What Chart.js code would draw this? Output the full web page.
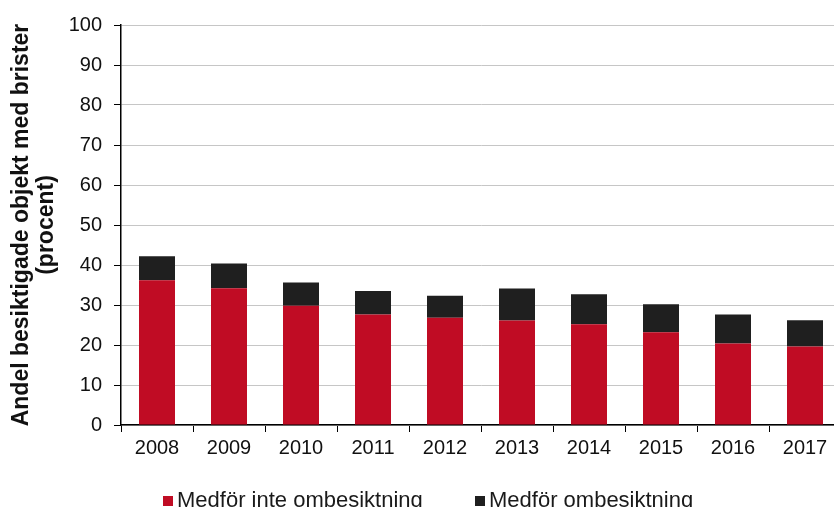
<!DOCTYPE html>
<html>
<head>
<meta charset="utf-8">
<script src="https://cdn.jsdelivr.net/npm/chart.js@4"></script>
<style>
  html, body { margin: 0; padding: 0; background: #fff; }
  #wrap { position: relative; width: 834px; height: 507px; overflow: hidden; }
  #box { position: absolute; left: 0; top: 0; width: 843px; height: 507px; }
  #legend { position: absolute; top: 488px; left: 0; width: 834px; height: 19px;
    font-family: "Liberation Sans", Arial, sans-serif; font-size: 22px; color: #1a1a1a; }
  .item { position: absolute; top: 0; white-space: nowrap; line-height: 24px; }
  .item i { display: inline-block; width: 10px; height: 10px; margin-right: 4px; vertical-align: 1px; }
</style>
</head>
<body>
<div id="wrap">
  <div id="box"><canvas id="chart" width="843" height="507"></canvas></div>
  <div id="legend"></div>
</div>
<script>
const years = ["2008", "2009", "2010", "2011", "2012", "2013", "2014", "2015", "2016", "2017"];
const ejOmbesiktning = [36.2, 34.2, 29.8, 27.6, 26.8, 26.1, 25.2, 23.2, 20.4, 19.6];
const ombesiktning = [6.0, 6.2, 5.8, 5.9, 5.5, 8.0, 7.5, 7.0, 7.2, 6.6];
const seriesNames = ["Medför inte ombesiktning", "Medför ombesiktning"];
const colors = ["#c00c24", "#1f1f1f"];
const yTitle = ["Andel besiktigade objekt med brister", "(procent)"];

const font = "'Liberation Sans', Arial, sans-serif";

const data = {
  labels: years,
  datasets: [
    {
      label: seriesNames[0],
      data: ejOmbesiktning,
      backgroundColor: colors[0],
      barPercentage: 0.5,
      categoryPercentage: 1,
    },
    {
      label: seriesNames[1],
      data: ombesiktning,
      backgroundColor: colors[1],
      barPercentage: 0.5,
      categoryPercentage: 1,
    },
  ],
};

const options = {
  responsive: false,
  animation: false,
  layout: { padding: { top: 25, right: 2, left: 0, bottom: 0 } },
  scales: {
    x: {
      stacked: true,
      grid: {
        display: true,
        drawOnChartArea: false,
        color: "#000",
        tickLength: 7,
        offset: true,
      },
      border: { color: "#000", width: 1.5 },
      ticks: { color: "#111", font: { family: font, size: 20 }, padding: 4, maxRotation: 0 },
      afterFit: (scale) => { scale.height = 82; },
    },
    y: {
      stacked: true,
      min: 0,
      max: 100,
      grid: { color: "#c6c6c6", tickColor: "#000", tickLength: 7 },
      border: { color: "#000", width: 1.5 },
      ticks: { stepSize: 10, color: "#111", font: { family: font, size: 20 }, padding: 12 },
      title: {
        display: true,
        text: yTitle,
        color: "#111",
        font: { family: font, size: 23, weight: "bold", lineHeight: 1.1 },
        padding: { top: 9, bottom: 0 },
      },
      afterFit: (scale) => { scale.width = 121; },
    },
  },
  plugins: {
    legend: { display: false },
    tooltip: { enabled: false },
  },
};

const chart = new Chart(document.getElementById("chart"), {
  type: "bar",
  data: data,
  options: options,
});

// legend from the datasets
const legendX = [163, 475];
const legend = document.getElementById("legend");
chart.data.datasets.forEach((ds, i) => {
  const el = document.createElement("div");
  el.className = "item";
  el.style.left = legendX[i] + "px";
  el.innerHTML = `<i style="background:${ds.backgroundColor}"></i>${ds.label}`;
  legend.appendChild(el);
});
</script>
</body>
</html>
